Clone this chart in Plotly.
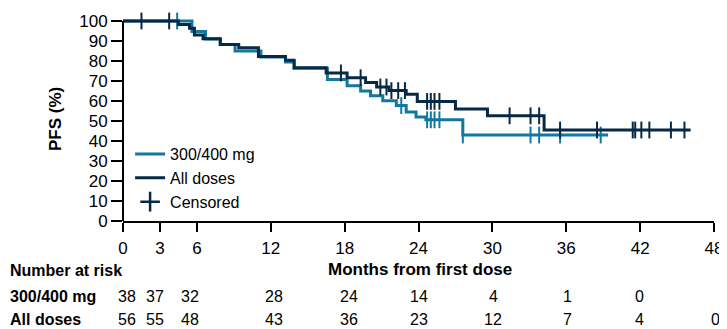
import numpy as np
import plotly.graph_objects as go

# ---- data ----
teal_times = [0, 5.6, 6.7, 7.9, 9.1, 11.2, 13.2, 13.9, 16.6, 18.2, 19.3, 20.1, 21.1, 22.2, 23.0, 23.8, 24.6, 27.6, 39.4]
teal_surv = [100, 94.7, 91.0, 88.2, 85.0, 82.0, 79.5, 76.4, 70.8, 67.6, 65.0, 62.6, 60.1, 57.7, 54.5, 52.0, 50.6, 43.0, 43.0]
teal_censor = [4.4, 22.6, 24.7, 25.0, 25.3, 25.7, 27.6, 33.1, 33.8, 35.5, 38.8]

all_times = [0, 4.5, 5.4, 5.8, 6.5, 7.9, 9.4, 11.0, 13.2, 13.9, 16.5, 18.2, 19.7, 20.6, 21.6, 23.0, 23.9, 27.0, 29.6, 34.2, 46.1]
all_surv = [100, 98.2, 96.4, 93.0, 91.1, 88.2, 86.6, 82.2, 80.4, 76.6, 74.0, 71.6, 69.2, 67.0, 65.2, 63.4, 59.8, 56.0, 52.6, 45.5, 45.5]
all_censor = [1.5, 3.75, 17.7, 19.3, 20.9, 21.4, 21.8, 22.35, 22.9, 24.7, 25.0, 25.3, 25.7,
              31.4, 33.1, 33.8, 35.5, 38.5, 41.4, 41.6, 42.1, 42.75, 44.5, 45.6]

x_ticks = [0, 3, 6, 12, 18, 24, 30, 36, 42, 48]
y_ticks = [0, 10, 20, 30, 40, 50, 60, 70, 80, 90, 100]
risk_times = [0, 3, 6, 12, 18, 24, 30, 36, 42, 48]
risk_teal = [38, 37, 32, 28, 24, 14, 4, 1, 0, None]
risk_all = [56, 55, 48, 43, 36, 23, 12, 7, 4, 0]

# styling
risk_xshift = [4, -5, -7, 3, 4, 0, 1, 1, -1, 1]
TEAL = "#11789f"
DARK = "#062a45"
FONT = "Liberation Sans, Arial, sans-serif"


def step_at(times, surv, t):
    idx = np.searchsorted(np.asarray(times), t, side="right") - 1
    return np.asarray(surv)[idx]


fig = go.Figure()

fig.add_trace(go.Scatter(x=teal_times, y=teal_surv, mode="lines", line_shape="hv",
                         line=dict(color=TEAL, width=3), name="300/400 mg"))
fig.add_trace(go.Scatter(x=teal_censor, y=step_at(teal_times, teal_surv, teal_censor), mode="markers",
                         marker=dict(symbol="line-ns", size=12, line=dict(color=TEAL, width=2)),
                         showlegend=False, cliponaxis=False))
fig.add_trace(go.Scatter(x=all_times, y=all_surv, mode="lines", line_shape="hv",
                         line=dict(color=DARK, width=3), name="All doses"))
fig.add_trace(go.Scatter(x=all_censor, y=step_at(all_times, all_surv, all_censor), mode="markers",
                         marker=dict(symbol="line-ns", size=12, line=dict(color=DARK, width=2)),
                         showlegend=False, cliponaxis=False))
fig.add_trace(go.Scatter(x=[None], y=[None], mode="markers", name="Censored",
                         marker=dict(symbol="cross-thin", size=14, line=dict(color=DARK, width=2.5))))

annotations = []
annotations.append(dict(text="<b>PFS (%)</b>", xref="paper", yref="paper", x=-0.115, y=0.5,
                        xanchor="center", yanchor="middle",
                        textangle=-90, showarrow=False, font=dict(size=17, color="black", family=FONT)))
annotations.append(dict(text="<b>Months from first dose</b>", xref="x", yref="paper", x=24.1, y=-0.24,
                        xanchor="center", yanchor="middle",
                        showarrow=False, font=dict(size=17, color="black", family=FONT)))
for txt, yy in [("<b>Number at risk</b>", -0.244), ("<b>300/400 mg</b>", -0.368), ("<b>All doses</b>", -0.483)]:
    annotations.append(dict(text=txt, xref="paper", yref="paper", x=-0.194, y=yy, xanchor="left",
                            yanchor="middle", showarrow=False,
                            font=dict(size=16, color="black", family=FONT)))
for t, v, dx in zip(risk_times, risk_teal, risk_xshift):
    if v is not None:
        annotations.append(dict(text=str(v), xref="x", yref="paper", x=t, y=-0.368, xshift=dx,
                                xanchor="center", yanchor="middle", showarrow=False,
                                font=dict(size=16, color="black", family=FONT)))
for t, v, dx in zip(risk_times, risk_all, risk_xshift):
    if v is not None:
        annotations.append(dict(text=str(v), xref="x", yref="paper", x=t, y=-0.483, xshift=dx,
                                xanchor="center", yanchor="middle", showarrow=False,
                                font=dict(size=16, color="black", family=FONT)))

# page body adds an 8px offset, so the figure is 8px smaller with margins shifted
fig.update_layout(
    width=719, height=321,
    margin=dict(l=115, r=12, t=4, b=108),
    plot_bgcolor="white", paper_bgcolor="white",
    font=dict(family=FONT, size=17, color="black"),
    showlegend=True,
    legend=dict(x=0.012, y=0.411, xanchor="left", yanchor="top", bgcolor="rgba(0,0,0,0)",
                font=dict(size=16, family=FONT, color="black"), tracegroupgap=0),
    xaxis=dict(range=[0, 48], tickvals=x_ticks, ticktext=[str(v) for v in x_ticks],
               showline=True, linecolor="black", linewidth=2, ticks="outside", ticklen=9,
               tickwidth=2, tickcolor="black", showgrid=False, zeroline=False,
               tickfont=dict(size=17, family=FONT), ticklabelstandoff=2,
               ticklabeloverflow="allow"),
    yaxis=dict(range=[0, 102], tickvals=y_ticks, ticktext=[str(v) for v in y_ticks],
               showline=False, ticks="outside", ticklen=11, tickwidth=2, tickcolor="black",
               showgrid=False, zeroline=False, tickfont=dict(size=17, family=FONT),
               ticklabeloverflow="allow"),
    shapes=[dict(type="line", xref="paper", yref="y", x0=0, x1=0, y0=0, y1=100,
                 line=dict(color="black", width=2))],
    annotations=annotations,
)

fig.write_html("out.html")
